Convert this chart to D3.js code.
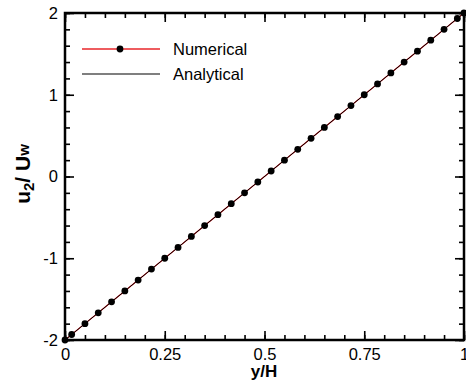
<!DOCTYPE html>
<html>
<head>
<meta charset="utf-8">
<script src="https://cdn.jsdelivr.net/npm/d3@7"></script>
<style>
  body { margin: 0; background: #fff; }
  svg { display: block; font-family: "Liberation Sans", Arial, sans-serif; }
</style>
</head>
<body>
<svg id="chart" width="466" height="383"></svg>
<script>
// numerical solution points (y/H, u2/Uw)
let numY = [0, 0.0167, 0.05, 0.0833, 0.1167, 0.15, 0.1833, 0.2167, 0.25, 0.2833,
            0.3167, 0.35, 0.3833, 0.4167, 0.45, 0.4833, 0.5167, 0.55, 0.5833, 0.6167,
            0.65, 0.6833, 0.7167, 0.75, 0.7833, 0.8167, 0.85, 0.8833, 0.9167, 0.95,
            0.9833, 1];
let numU = [-2, -1.933, -1.8, -1.667, -1.533, -1.4, -1.267, -1.133, -1, -0.867,
            -0.733, -0.6, -0.467, -0.333, -0.2, -0.067, 0.067, 0.2, 0.333, 0.467,
            0.6, 0.733, 0.867, 1, 1.133, 1.267, 1.4, 1.533, 1.667, 1.8,
            1.933, 2];
// analytical solution
let anaY = [0, 1];
let anaU = [-2, 2];

let xTicks = [0, 0.25, 0.5, 0.75, 1];
let xTickLabels = ["0", "0.25", "0.5", "0.75", "1"];
let yTicks = [-2, -1, 0, 1, 2];
let yTickLabels = ["-2", "-1", "0", "1", "2"];

let svg = d3.select("#chart");
let pLeft = 65, pRight = 464, pTop = 13, pBottom = 340;

let xScale = d3.scaleLinear().domain([0, 1]).range([pLeft, pRight]);
let yScale = d3.scaleLinear().domain([-2, 2]).range([pBottom, pTop]);

let xMinor = d3.range(0, 21).map(function(i){ return i * 0.05; });
let yMinor = d3.range(0, 21).map(function(i){ return -2 + i * 0.2; });

/* 軸 (内向きの目盛り) */
function drawAxis(axis, transform){
    let g = svg.append("g").attr("transform", transform).call(axis);
    g.select(".domain").remove();
    g.selectAll("line").attr("stroke", "#000").attr("stroke-width", 1.6);
    return g;
}

// minor ticks
drawAxis(d3.axisBottom(xScale).tickValues(xMinor).tickSize(-5).tickFormat(""), "translate(0," + pBottom + ")");
drawAxis(d3.axisTop(xScale).tickValues(xMinor).tickSize(-5).tickFormat(""), "translate(0," + pTop + ")");
drawAxis(d3.axisLeft(yScale).tickValues(yMinor).tickSize(-5).tickFormat(""), "translate(" + pLeft + ",0)");
drawAxis(d3.axisRight(yScale).tickValues(yMinor).tickSize(-5).tickFormat(""), "translate(" + pRight + ",0)");

// major ticks
let gx = drawAxis(d3.axisBottom(xScale).tickValues(xTicks).tickSize(-9).tickPadding(6)
    .tickFormat(function(d, i){ return xTickLabels[i]; }), "translate(0," + pBottom + ")");
gx.selectAll("text").attr("font-size", "16.5px").attr("fill", "#000")
  .attr("font-family", "Liberation Sans, Arial, sans-serif")
  .attr("y", 5).attr("dy", "0.9em");
drawAxis(d3.axisTop(xScale).tickValues(xTicks).tickSize(-9).tickFormat(""), "translate(0," + pTop + ")");
let gy = drawAxis(d3.axisLeft(yScale).tickValues(yTicks).tickSize(-9)
    .tickFormat(function(d, i){ return yTickLabels[i]; }), "translate(" + pLeft + ",0)");
gy.selectAll("text").attr("font-size", "16.5px").attr("fill", "#000")
  .attr("font-family", "Liberation Sans, Arial, sans-serif")
  .attr("x", -7);
drawAxis(d3.axisRight(yScale).tickValues(yTicks).tickSize(-9).tickFormat(""), "translate(" + pRight + ",0)");

// frame
svg.append("rect")
   .attr("x", pLeft).attr("y", pTop)
   .attr("width", pRight - pLeft).attr("height", pBottom - pTop)
   .attr("fill", "none").attr("stroke", "#000").attr("stroke-width", 2.5);

// numerical line + markers
let numData = numY.map(function(d, i){ return [d, numU[i]]; });
let anaData = anaY.map(function(d, i){ return [d, anaU[i]]; });
let line = d3.line()
    .x(function(d){ return xScale(d[0]); })
    .y(function(d){ return yScale(d[1]); });

svg.append("path").datum(numData).attr("d", line)
   .attr("fill", "none").attr("stroke", "#e8262a").attr("stroke-width", 1.2);
svg.append("path").datum(anaData).attr("d", line)
   .attr("fill", "none").attr("stroke", "#000").attr("stroke-width", 1);
svg.selectAll("circle.num").data(numData).enter().append("circle")
   .attr("class", "num")
   .attr("cx", function(d){ return xScale(d[0]); })
   .attr("cy", function(d){ return yScale(d[1]); })
   .attr("r", 3.4).attr("fill", "#000");

// legend
let lg = svg.append("g");
lg.append("line").attr("x1", 82).attr("x2", 160).attr("y1", 49).attr("y2", 49)
  .attr("stroke", "#e8262a").attr("stroke-width", 1.3);
lg.append("circle").attr("cx", 120).attr("cy", 49).attr("r", 3.4).attr("fill", "#000");
lg.append("text").attr("x", 173).attr("y", 55).attr("font-size", "16.5px").text("Numerical");
lg.append("line").attr("x1", 82).attr("x2", 160).attr("y1", 74).attr("y2", 74)
  .attr("stroke", "#000").attr("stroke-width", 1.2);
lg.append("text").attr("x", 173).attr("y", 80).attr("font-size", "16.5px").text("Analytical");

// axis titles
svg.append("text").attr("x", 264).attr("y", 377).attr("text-anchor", "middle")
   .attr("font-size", "17px").attr("font-weight", "bold").text("y/H");

let yt = svg.append("text")
   .attr("transform", "translate(30,174) rotate(-90)")
   .attr("text-anchor", "middle")
   .attr("font-size", "21px").attr("font-weight", "bold");
yt.append("tspan").text("u");
yt.append("tspan").attr("font-size", "15px").attr("dy", 4).text("2");
yt.append("tspan").attr("dy", -4).text("/ U");
yt.append("tspan").attr("font-size", "15px").attr("dy", -1).text("w");
</script>
</body>
</html>
